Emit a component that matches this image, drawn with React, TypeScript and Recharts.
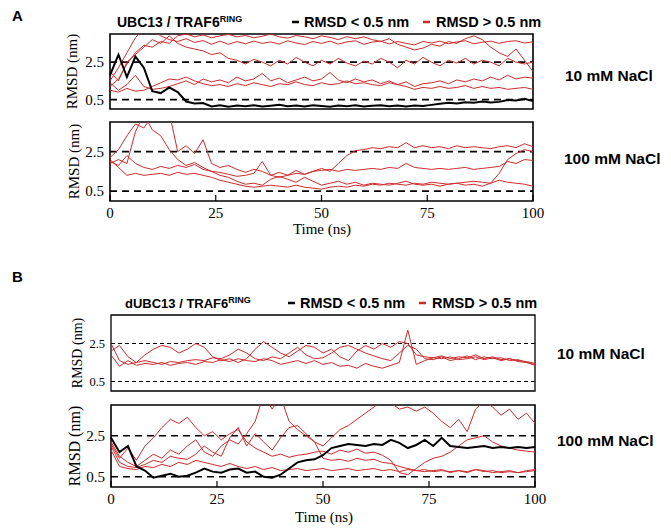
import React from 'react';
import { LineChart, Line, XAxis, YAxis, ReferenceLine, ReferenceArea } from 'recharts';

// time axis (ns)
const time = [
  0, 2, 4, 6, 8, 10, 12, 14, 16, 18, 20, 22, 24, 26, 28, 30, 32, 34, 36, 38, 40, 42, 44, 46, 48, 50,
  52, 54, 56, 58, 60, 62, 64, 66, 68, 70, 72, 74, 76, 78, 80, 82, 84, 86, 88, 90, 92, 94, 96, 98, 100,
];
const xTicks = [0, 25, 50, 75, 100];
const yTicks = [0.5, 2.5];
const thresholds = [0.5, 2.5];

// A: UBC13 / TRAF6RING, 10 mM NaCl
const aTopBlack = [
  1.8, 2.9, 1.7, 2.8, 2.2, 0.95, 0.85, 1.15, 0.9, 0.4,
  0.3, 0.32, 0.14, 0.2, 0.12, 0.18, 0.15, 0.2, 0.13, 0.17,
  0.22, 0.15, 0.18, 0.14, 0.2, 0.16, 0.12, 0.18, 0.15, 0.2,
  0.14, 0.17, 0.2, 0.15, 0.18, 0.13, 0.19, 0.16, 0.22, 0.28,
  0.33, 0.3, 0.36, 0.34, 0.4, 0.35, 0.38, 0.48, 0.45, 0.55,
  0.42,
];
const aTopRed1 = [
  1.5, 2.2, 3.0, 3.8, 4.3, 4.2, 3.9, 3.7, 3.6, 3.75,
  3.55, 3.65, 3.45, 3.62, 3.45, 3.6, 3.48, 3.62, 3.5, 3.58,
  3.46, 3.64, 3.52, 3.44, 3.6, 3.5, 3.62, 3.46, 3.58, 3.64,
  3.45, 3.57, 3.62, 3.47, 3.6, 3.5, 3.42, 3.6, 3.52, 3.62,
  3.48, 3.58, 3.64, 3.48, 3.56, 3.62, 3.5, 3.6, 3.64, 3.52,
  3.58,
];
const aTopRed2 = [
  1.2, 1.6, 2.4, 3.0, 3.4, 3.3, 3.6, 3.5, 3.9, 4.0,
  3.85, 3.95, 3.8, 3.9, 3.98, 3.85, 3.92, 3.8, 3.88, 4.0,
  3.85, 3.78, 3.92, 3.85, 3.75, 3.9, 3.82, 3.7, 3.86, 3.75,
  3.85, 3.7, 3.6, 3.75, 3.45, 3.3, 3.15, 3.25, 3.45, 3.35,
  3.6, 3.5, 3.75, 3.9, 3.7, 3.3, 3.0, 2.8, 3.2, 2.6,
  2.0,
];
const aTopRed3 = [
  2.0, 1.5, 2.5, 2.9, 3.3, 3.7, 3.5, 3.9, 3.5, 3.3,
  3.2, 3.1, 2.9, 3.0, 2.7, 2.6, 2.4, 2.65, 2.5, 2.3,
  2.6, 2.4, 2.75, 2.5, 2.3, 2.6, 2.4, 2.7, 2.45, 2.3,
  2.55, 2.4, 2.7, 2.5, 2.2, 2.6, 2.4, 2.75, 2.5, 2.3,
  2.6, 2.45, 2.7, 2.4, 2.6, 2.5, 2.3, 2.7, 2.5, 2.4,
  2.5,
];
const aTopRed4 = [
  1.4, 1.0, 1.3, 1.8, 1.2, 1.05, 1.1, 1.2, 1.35, 1.5,
  1.3, 1.6, 1.45, 1.55, 1.4, 1.7, 1.5, 1.6, 1.9, 1.5,
  1.65, 1.4, 1.55, 1.7, 1.5, 1.6, 1.95, 1.55, 1.4, 1.6,
  1.45, 1.55, 1.35, 1.5, 1.3, 1.45, 1.2, 1.35, 1.4, 1.5,
  1.35, 1.55, 1.45, 1.6, 1.5, 1.7, 1.55, 1.8, 1.6, 1.7,
  1.65,
];
const aTopRed5 = [
  1.0, 0.9, 1.1, 0.95, 1.0, 1.2, 1.4, 1.6, 1.55, 1.7,
  1.5, 1.35, 1.25, 1.3, 1.2, 1.35, 1.25, 1.4, 1.3, 1.2,
  1.35, 1.3, 1.45, 1.3, 1.25, 1.4, 1.3, 1.35, 1.5, 1.35,
  1.4, 1.3, 1.25, 1.4, 1.3, 1.2, 1.05, 1.15, 1.1, 1.2,
  1.1, 1.15, 1.25, 1.1, 1.2, 1.1, 1.15, 1.05, 1.1, 1.15,
  1.05,
];

// A: 100 mM NaCl
const aBotRed1 = [
  2.2, 2.6, 3.3, 3.9, 3.7, 4.3, 4.2, 4.5, 2.5, 2.8,
  2.4, 3.1, 1.9, 1.7, 1.8, 1.6, 1.45, 1.6, 1.5, 1.3,
  1.45, 1.3, 1.55, 1.35, 1.5, 1.65, 1.5, 1.9, 2.3, 2.55,
  2.6, 2.7, 2.65, 2.75, 2.7, 2.95, 2.7, 2.8, 2.7, 2.75,
  2.65, 2.8, 2.7, 2.75, 2.7, 2.65, 2.75, 2.8, 2.7, 2.9,
  2.75,
];
const aBotRed2 = [
  2.0, 1.8, 2.3, 1.9, 1.7, 1.6, 1.75, 1.65, 1.8, 1.7,
  1.85, 1.6, 1.5, 1.45, 1.35, 1.25, 1.3, 1.4, 2.0, 1.3,
  1.2, 1.3, 1.4, 1.35, 1.5, 1.55, 1.6, 1.5, 1.6, 1.55,
  1.6, 1.65, 1.6, 1.7, 1.65, 1.9, 1.7, 1.65, 1.6, 1.65,
  1.6, 1.65, 1.7, 1.6, 1.65, 1.7, 1.75, 2.0, 1.9, 2.1,
  2.05,
];
const aBotRed3 = [
  2.1, 1.7, 1.3, 1.4, 1.3, 1.35, 1.4, 1.3, 1.45, 1.35,
  1.4, 1.3, 1.2, 1.05, 0.95, 0.85, 0.75, 0.7, 0.75, 0.8,
  0.75, 0.7, 0.8, 0.7, 0.65, 0.6, 0.7, 0.75, 0.7, 0.8,
  0.75, 0.85, 0.8, 0.9, 0.85, 0.8, 0.9, 0.85, 0.95, 0.9,
  0.85, 0.9, 0.95, 1.0, 0.95, 0.9, 1.05, 0.95, 0.9, 0.85,
  0.75,
];
const aBotRed4 = [
  1.9, 2.1, 1.9, 3.5, 4.4, 3.6, 3.3, 2.6, 2.1, 1.8,
  1.95, 1.7, 1.5, 1.3, 1.2, 1.0, 0.85, 0.9, 0.8, 1.1,
  1.25, 1.1, 0.95, 1.2, 1.0, 0.8, 0.9, 1.0, 0.85, 0.95,
  0.8, 0.9, 0.85, 0.8, 0.9, 1.0, 0.85, 0.8, 0.85, 0.75,
  0.85, 0.9, 0.8, 0.85, 0.75, 0.9, 1.4, 2.1, 2.4, 2.6,
  2.5,
];

// B: dUBC13 / TRAF6RING, 10 mM NaCl
const bTopRed1 = [
  2.5, 1.6, 1.4, 1.5, 1.9, 2.2, 2.4, 2.3, 2.0, 2.2,
  2.5, 2.3, 1.8, 1.6, 1.7, 1.5, 1.7, 2.2, 2.6, 2.3,
  2.0, 1.8, 2.1, 2.4, 2.3, 2.0, 2.2, 1.8, 1.6, 2.1,
  2.4, 2.2, 2.5, 2.3, 2.6, 2.5, 1.9, 1.8, 1.75, 1.85,
  1.7, 1.8, 1.75, 1.9, 1.7, 1.8, 1.65, 1.7, 1.6, 1.55,
  1.45,
];
const bTopRed2 = [
  2.1, 2.4, 1.8, 1.5, 1.6, 1.5, 1.4, 1.55, 1.5, 1.6,
  1.65, 1.6, 1.75, 1.7, 1.9, 2.2, 2.0, 1.7, 1.6, 1.8,
  1.7, 2.0, 2.3, 1.9, 1.7, 1.75, 2.0, 2.3, 2.4, 2.2,
  2.0, 1.85, 1.7, 1.6, 2.0, 2.4, 2.2, 1.7, 1.65, 1.8,
  1.6, 1.7, 1.85, 1.65, 1.8, 1.7, 1.75, 1.6, 1.65, 1.5,
  1.4,
];
const bTopRed3 = [
  1.9, 1.3, 1.6, 1.35, 1.45, 1.4, 1.5, 1.35, 1.45, 1.5,
  1.4, 1.55, 1.5, 1.65, 1.55, 1.7, 1.6, 1.55, 1.7, 1.6,
  1.4, 1.5, 1.6, 1.45, 1.6, 1.4, 1.5, 1.3, 1.35, 1.2,
  1.45, 1.3, 1.2, 1.35, 1.5, 3.2, 1.4, 1.6, 1.75, 1.7,
  1.8, 1.65, 1.7, 1.8, 1.65, 1.75, 1.6, 1.7, 1.55, 1.5,
  1.35,
];

// B: 100 mM NaCl
const bBotBlack = [
  2.4, 1.7, 2.0, 1.0, 0.8, 0.45, 0.55, 0.65, 0.5, 0.55,
  0.7, 0.9, 0.75, 0.7, 0.85, 0.9, 0.7, 0.75, 0.5, 0.45,
  0.6, 0.9, 1.2, 1.3, 1.35, 1.55, 1.9, 2.0, 2.1, 2.05,
  2.0, 2.1, 2.05, 2.3, 2.15, 1.9, 2.05, 2.3, 2.0, 2.4,
  2.0, 1.95, 1.9, 1.95, 2.0, 1.9, 1.95, 1.9, 1.95, 1.9,
  1.95,
];
const bBotRed1 = [
  2.2, 1.5, 1.2, 1.0, 1.3, 1.6, 1.4, 1.8, 1.6, 2.0,
  2.3, 1.7, 1.5, 2.0, 2.3, 2.1, 2.6, 3.2, 4.5, 3.8,
  4.4, 3.2, 2.8, 2.5, 2.2, 2.0, 2.4, 2.8, 3.0, 3.3,
  3.6, 3.9, 4.2, 4.1, 3.8, 3.9, 3.7, 3.9, 3.6, 3.2,
  2.9, 3.3, 2.7, 3.8, 4.2, 3.9, 3.5, 3.8, 3.3, 3.6,
  3.1,
];
const bBotRed2 = [
  2.1, 1.4, 1.9, 1.3, 2.0, 2.4, 2.9, 3.3, 3.1, 3.4,
  2.9, 2.5, 2.7, 2.3, 2.6, 2.8, 2.2, 1.9, 1.7, 1.5,
  1.6, 1.45, 1.55, 1.6, 1.7, 1.75, 1.6, 1.8, 1.7, 1.85,
  1.65, 1.7, 1.55, 1.3, 0.7, 0.6, 0.9, 1.2, 1.4, 1.5,
  1.7, 2.0, 2.3, 2.4, 2.5, 2.2, 2.0, 1.9, 1.8, 1.75,
  1.7,
];
const bBotRed3 = [
  2.0, 1.2, 1.0, 0.95, 1.1, 1.3, 1.2, 1.5, 1.4, 1.35,
  1.6, 2.0, 1.7, 1.5, 2.4, 2.9, 2.0, 2.6, 2.2, 1.8,
  2.4, 2.9, 3.0, 2.6, 2.2, 1.4, 1.3, 1.35, 1.25, 1.4,
  1.3, 1.35, 1.2, 1.15, 1.0, 0.9, 0.8, 0.85, 0.75, 0.8,
  0.75, 0.8, 0.7, 0.85, 0.75, 0.8, 0.7, 0.75, 0.7, 0.8,
  0.85,
];
const bBotRed4 = [
  1.8, 1.0, 0.9, 0.85, 1.0, 0.95, 1.1, 1.0, 1.2, 1.1,
  1.3, 1.2, 1.1, 1.0, 1.15, 1.0, 0.9, 1.0, 0.85, 0.95,
  0.8, 0.85, 0.9, 0.8, 0.85, 0.9, 0.8, 0.85, 0.9, 0.8,
  0.85, 0.9, 0.8, 0.85, 0.75, 0.85, 0.8, 0.75, 0.8, 0.85,
  0.7, 0.8, 0.75, 0.85, 0.8, 0.7, 0.75, 0.8, 0.7, 0.75,
  0.8,
];

const RED = '#cc2b2b';
const SERIF = '"Liberation Serif", "Times New Roman", serif';
const SANS = '"Liberation Sans", Arial, sans-serif';

interface PanelProps {
  top: number;
  left: number;
  right: number;
  height: number;
  reds: number[][];
  black?: number[];
  labels?: boolean;
  dash: string;
  dashWidth: number;
  boxWidth: number;
  yFont: number;
}

function Panel({ top, left, right, height, reds, black, labels, dash, dashWidth, boxWidth, yFont }: PanelProps) {
  const rows = time.map((t, i) => {
    const row: Record<string, number> = { t };
    reds.forEach((s, j) => {
      row['r' + j] = s[i];
    });
    if (black) row.k = black[i];
    return row;
  });
  const axisH = labels ? 40 : 4;
  return (
    <div style={{ position: 'absolute', left: 0, top: top - 4 }}>
      <LineChart
        width={671}
        height={4 + height + axisH}
        data={rows}
        margin={{ top: 4, right: 671 - right, bottom: 0, left: 0 }}
      >
        <XAxis
          dataKey="t"
          type="number"
          domain={[0, 100]}
          ticks={xTicks}
          interval={0}
          height={axisH}
          axisLine={false}
          tickSize={-6}
          tickMargin={12}
          tickLine={{ stroke: '#000', strokeWidth: 1.2 }}
          tick={labels ? { fill: '#000', fontSize: 15, fontFamily: SERIF } : false}
        />
        <YAxis
          type="number"
          domain={[0, 4]}
          allowDataOverflow
          ticks={yTicks}
          width={left}
          axisLine={false}
          tickLine={false}
          tickSize={0}
          tickMargin={6}
          tick={{ fill: '#000', fontSize: yFont, fontFamily: SERIF }}
        />
        {thresholds.map((v) => (
          <ReferenceLine key={v} y={v} stroke="#000" strokeWidth={dashWidth} strokeDasharray={dash} />
        ))}
        {reds.map((_, j) => (
          <Line
            key={j}
            dataKey={'r' + j}
            stroke={RED}
            strokeWidth={1}
            dot={false}
            isAnimationActive={false}
          />
        ))}
        {black && (
          <Line dataKey="k" stroke="#000" strokeWidth={2} dot={false} isAnimationActive={false} />
        )}
        <ReferenceArea x1={0} x2={100} y1={0} y2={4} fill="none" stroke="#000" strokeWidth={boxWidth} />
      </LineChart>
    </div>
  );
}

function YLabel({ x, y, size }: { x: number; y: number; size: number }) {
  return (
    <text
      x={x}
      y={y}
      transform={`rotate(-90 ${x} ${y})`}
      textAnchor="middle"
      dominantBaseline="central"
      fontFamily={SERIF}
      fontSize={size}
    >
      RMSD (nm)
    </text>
  );
}

function Legend({ x1, x2, y, title, size }: { x1: number; x2: number; y: number; title: string; size: number }) {
  return (
    <g fontFamily={SANS} fontWeight="bold">
      <text x={x1} y={y} fontSize={size}>
        {title}
        <tspan fontSize={9} dy={-5}>RING</tspan>
      </text>
      <line x1={x2} x2={x2 + 7} y1={y - 5} y2={y - 5} stroke="#000" strokeWidth={2.5} />
      <text x={x2 + 12} y={y} fontSize={14.5}>RMSD &lt; 0.5 nm</text>
      <line x1={x2 + 131} x2={x2 + 138} y1={y - 5} y2={y - 5} stroke={RED} strokeWidth={2.5} />
      <text x={x2 + 144} y={y} fontSize={14.5}>RMSD &gt; 0.5 nm</text>
    </g>
  );
}

export default function App() {
  return (
    <div style={{ position: 'absolute', left: 0, top: 0, width: 671, height: 528, background: '#fff' }}>
      <Panel top={34} left={110} right={533} height={75} reds={[aTopRed1, aTopRed2, aTopRed3, aTopRed4, aTopRed5]} black={aTopBlack} dash="7 5" dashWidth={1.6} boxWidth={1.6} yFont={15} />
      <Panel top={122} left={110} right={533} height={79} reds={[aBotRed1, aBotRed2, aBotRed3, aBotRed4]} labels dash="7 5" dashWidth={1.6} boxWidth={1.6} yFont={15} />
      <Panel top={315} left={111} right={535} height={76} reds={[bTopRed1, bTopRed2, bTopRed3]} dash="4 3" dashWidth={1.2} boxWidth={1.3} yFont={12.5} />
      <Panel top={405} left={111} right={535} height={82} reds={[bBotRed1, bBotRed2, bBotRed3, bBotRed4]} black={bBotBlack} labels dash="7 5" dashWidth={1.6} boxWidth={1.6} yFont={15} />
      <svg width={671} height={528} style={{ position: 'absolute', left: 0, top: 0, pointerEvents: 'none' }}>
        <text x={12} y={20.5} fontFamily={SANS} fontWeight="bold" fontSize={15}>A</text>
        <text x={12} y={281.5} fontFamily={SANS} fontWeight="bold" fontSize={15}>B</text>
        <Legend x1={117} x2={292} y={27} title="UBC13 / TRAF6" size={14} />
        <Legend x1={125} x2={288} y={308} title="dUBC13 / TRAF6" size={13} />
        <g fontFamily={SANS} fontWeight="bold" fontSize={15.5}>
          <text x={565} y={80.5}>10 mM NaCl</text>
          <text x={564} y={163.5}>100 mM NaCl</text>
          <text x={557} y={358.5}>10 mM NaCl</text>
          <text x={557} y={445.5}>100 mM NaCl</text>
        </g>
        <YLabel x={72} y={71.5} size={15} />
        <YLabel x={74} y={161.5} size={15} />
        <YLabel x={77} y={353} size={14} />
        <YLabel x={74} y={446} size={16} />
        <g fontFamily={SERIF} fontSize={15} textAnchor="middle">
          <text x={322} y={234}>Time (ns)</text>
          <text x={324} y={522}>Time (ns)</text>
        </g>
      </svg>
    </div>
  );
}
